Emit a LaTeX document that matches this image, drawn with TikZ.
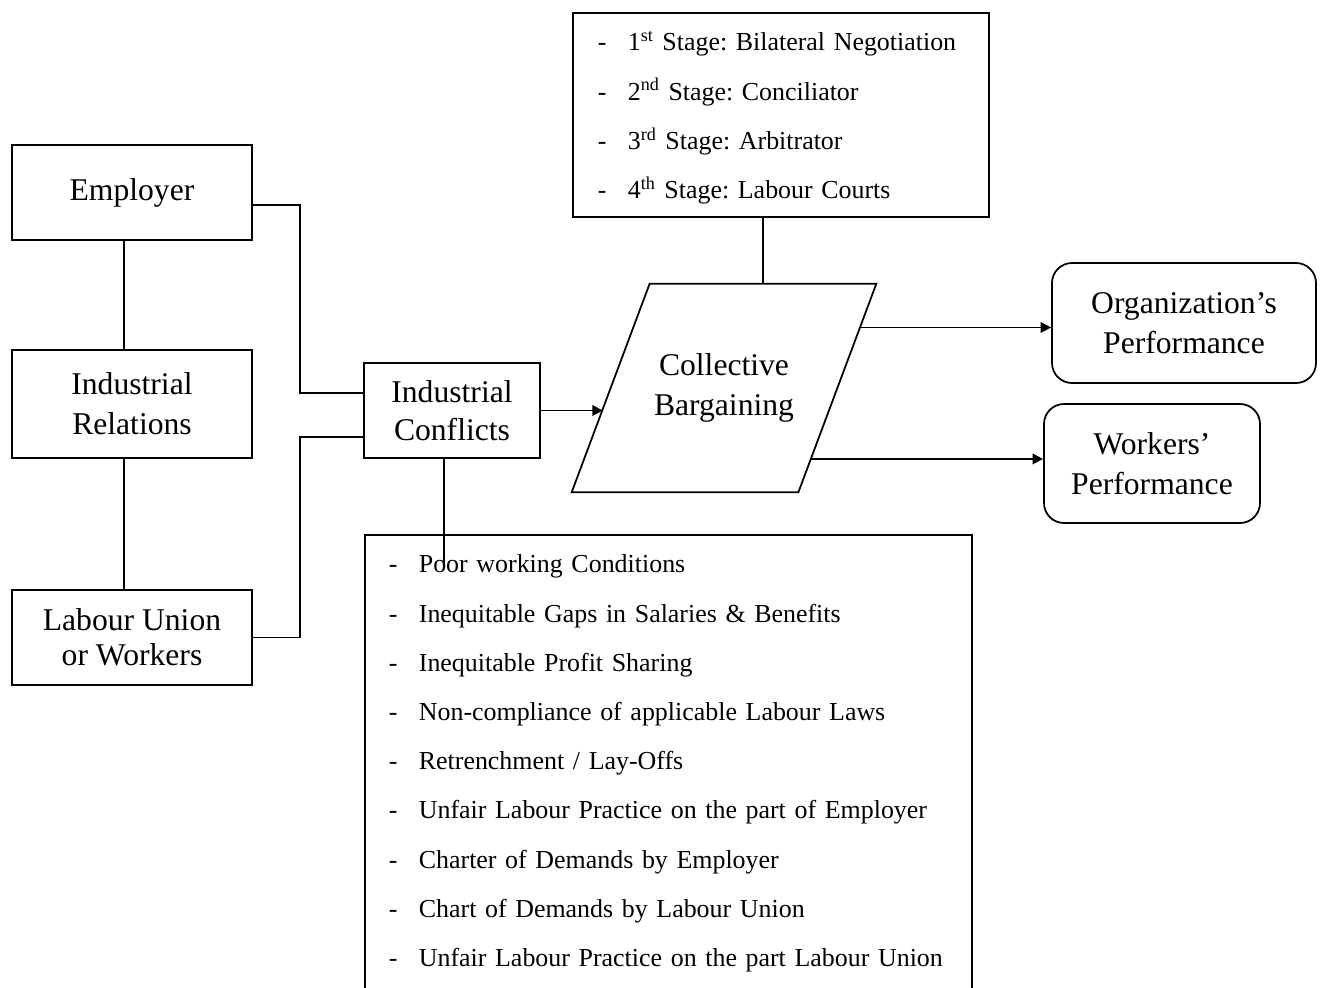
\documentclass[tikz,border=0pt]{standalone}
\usepackage{fontspec}
\setmainfont{Liberation Serif}
\usetikzlibrary{positioning, arrows.meta, calc}

\newcommand{\dashmark}{\makebox[0.6cm][l]{-}}

\begin{document}
\begin{tikzpicture}[
    block/.style={
        draw, line width=1pt,
        align=center,
        font=\fontsize{18}{22.8}\selectfont
    },
    roundblock/.style={block, rounded corners=0.4cm},
    listbox/.style={
        draw, line width=1pt, anchor=north west,
        align=left, inner xsep=0.48cm, inner ysep=2pt,
        font=\fontsize{14.75}{28}\selectfont\frenchspacing
    },
    link/.style={line width=1pt},
    arrow/.style={line width=1pt, -{Triangle[length=6pt, width=6pt]}}
]

% Page frame
\useasboundingbox (0,0) rectangle (26.44,-19.74);

% Left column - parties
\node[block, minimum width=4.8cm, minimum height=1.9cm] (emp) at (2.64,-3.85) {Employer};
\node[block, minimum width=4.8cm, minimum height=2.16cm] (ir) at (2.64,-8.08) {Industrial\\Relations};
\node[block, minimum width=4.8cm, minimum height=1.9cm] (lu) at (2.64,-12.75) {Labour Union\\[-0.1cm]or Workers};

\draw[link] ([xshift=-0.16cm]emp.south) -- ([xshift=-0.16cm]ir.north);
\draw[link] ([xshift=-0.16cm]ir.south) -- ([xshift=-0.16cm]lu.north);

% Conflicts
\node[block, minimum width=3.52cm, minimum height=1.9cm] (ic) at (9.04,-8.21) {Industrial\\[-0.04cm]Conflicts};

\coordinate (jn) at (6,0);
\coordinate (empout) at ([yshift=-0.25cm]emp.east);
\coordinate (icin1) at ([yshift=0.35cm]ic.west);
\coordinate (icin2) at ([yshift=-0.53cm]ic.west);
\draw[link] (empout) -- (empout -| jn) |- (icin1);
\draw[link] (lu.east) -- (lu.east -| jn) |- (icin2);

% Causes of conflicts
\node[listbox, text width=11.18cm] (causes) at (7.28,-10.68) {%
    \strut\dashmark Poor working Conditions\\
    \dashmark Inequitable Gaps in Salaries \& Benefits\\
    \dashmark Inequitable Profit Sharing\\
    \dashmark Non-compliance of applicable Labour Laws\\
    \dashmark Retrenchment / Lay-Offs\\
    \dashmark Unfair Labour Practice on the part of Employer\\
    \dashmark Charter of Demands by Employer\\
    \dashmark Chart of Demands by Labour Union\\
    \dashmark Unfair Labour Practice on the part Labour Union\\
    \mbox{}};

\draw[link] ([xshift=-0.16cm]ic.south) -- ++(0,-2.1);

% Collective bargaining (parallelogram)
\node[align=center, font=\fontsize{18}{22.8}\selectfont,
      minimum width=6.08cm, minimum height=4.16cm] (cb) at (14.48,-7.76) {Collective\\Bargaining};
\coordinate (cbbl) at (cb.south west);
\coordinate (cbtr) at (cb.north east);
\coordinate (cbtl) at ([xshift=1.56cm]cb.north west);
\coordinate (cbbr) at ([xshift=-1.56cm]cb.south east);
\draw[link] (cbbl) -- (cbtl) -- (cbtr) -- (cbbr) -- cycle;

\coordinate (cbin) at ($(cbbl)!0.4!(cbtl)$);
\draw[arrow] (ic.east) -- (ic.east -| cbin);

% Stages
\node[listbox, inner xsep=0.5cm, text width=7.32cm] (stg) at (11.44,-0.24) {%
    \strut\dashmark 1\textsuperscript{st} Stage: Bilateral Negotiation\\
    \dashmark 2\textsuperscript{nd} Stage: Conciliator\\
    \dashmark 3\textsuperscript{rd} Stage: Arbitrator\\
    \dashmark 4\textsuperscript{th} Stage: Labour Courts\strut};

\coordinate (cbtop) at ($(cbtl)!0.5!(cbtr)$);
\draw[link] (cbtop) -- (cbtop |- stg.south);

% Outcomes
\node[roundblock, minimum width=5.28cm, minimum height=2.4cm] (org) at (23.68,-6.46) {Organization’s\\Performance};
\node[roundblock, minimum width=4.32cm, minimum height=2.38cm] (wrk) at (23.04,-9.27) {Workers’\\Performance};

\coordinate (cbout1) at ($(cbbr)!0.79!(cbtr)$);
\coordinate (cbout2) at ($(cbbr)!0.16!(cbtr)$);
\draw[arrow] (cbout1) -- (cbout1 -| org.west);
\draw[arrow] (cbout2) -- (cbout2 -| wrk.west);

\end{tikzpicture}
\end{document}
